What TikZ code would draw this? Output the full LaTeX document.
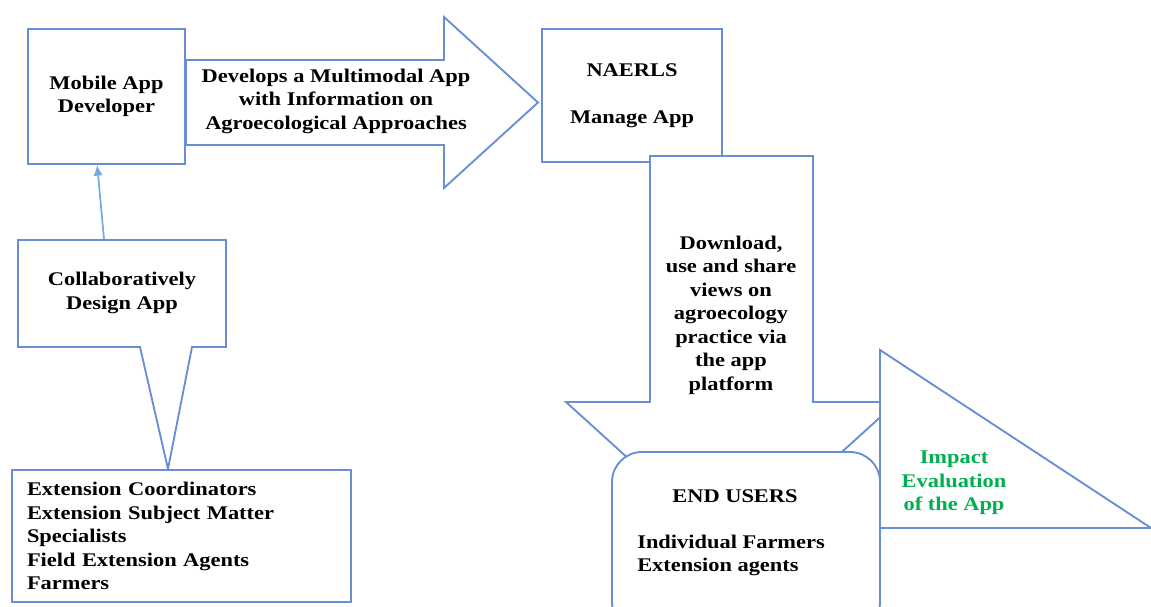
\documentclass[tikz,border=0pt]{standalone}
\usepackage{fontspec}
\setmainfont{Liberation Serif}[FakeStretch=1.16]
\usepackage{xcolor}
\usepackage{tikz}
\usetikzlibrary{arrows.meta,positioning,calc}

\definecolor{edgeblue}{RGB}{104,142,214}
\definecolor{linkblue}{RGB}{120,170,225}
\definecolor{evalgreen}{RGB}{0,176,80}

\begin{document}
\begin{tikzpicture}[
    x=0.75pt, y=-0.75pt,
    font=\fontsize{14.5}{17.6}\selectfont\bfseries,
    box/.style={draw=edgeblue, line width=1.4pt, fill=white, rectangle, align=center, inner sep=0pt},
    outline/.style={draw=edgeblue, line width=1.4pt, fill=white},
    txt/.style={align=center, inner sep=0pt},
    link/.style={-{Latex[length=8pt,width=7pt]}, linkblue, line width=1.3pt}
]
    \useasboundingbox (0,0) rectangle (1151,606);

    % Developer
    \node [box, minimum width=117.75pt, minimum height=101.25pt] (developer) at (106.5,96.5) {Mobile App\\Developer};

    % Develops arrow
    \draw [outline] (186,60) -- (444,60) -- (444,17) -- (538,102.5) -- (444,188) -- (444,145) -- (186,145) -- cycle;
    \node [txt] (develops) at (336,101) {Develops a Multimodal App\\with Information on\\Agroecological Approaches};

    % NAERLS
    \node [box, minimum width=135pt, minimum height=99.75pt] (naerls) at (632,95.5) {NAERLS\\[\baselineskip]Manage App};

    % Download arrow
    \draw [outline] (650,156) -- (813,156) -- (813,402) -- (897,402) -- (731.5,552) -- (566,402) -- (650,402) -- cycle;
    \node [txt] (download) at (731,315) {Download,\\use and share\\views on\\agroecology\\practice via\\the app\\platform};

    % Impact evaluation
    \draw [outline] (880,350) -- (1151,528) -- (880,528) -- cycle;
    \node [txt, text=evalgreen] (impact) at (954,483) {Impact\\Evaluation\\of the App};

    % End users
    \node [box, rounded corners=22.5pt, minimum width=201pt, minimum height=135pt] (users) at (746,542) {};
    \node [txt] (users_head) at (735,496) {END USERS};
    \node [txt, align=left, anchor=west] (users_list) at (637,555.5) {Individual Farmers\\Extension agents};

    % Design callout
    \draw [outline] (18,240) -- (226,240) -- (226,347) -- (192,347) -- (168,469) -- (140,347) -- (18,347) -- cycle;
    \node [txt] (design) at (122,293) {Collaboratively\\Design App};

    % Stakeholders
    \node [box, align=left, inner xsep=11.25pt, text width=231.75pt, minimum height=99pt] (stakeholders) at (181.5,536) {Extension Coordinators\\Extension Subject Matter\\Specialists\\Field Extension Agents\\Farmers};

    % Connections
    \coordinate (design_top) at (104,239);
    \draw [link] (design_top) -- ([xshift=-7pt]developer.south);

\end{tikzpicture}
\end{document}
